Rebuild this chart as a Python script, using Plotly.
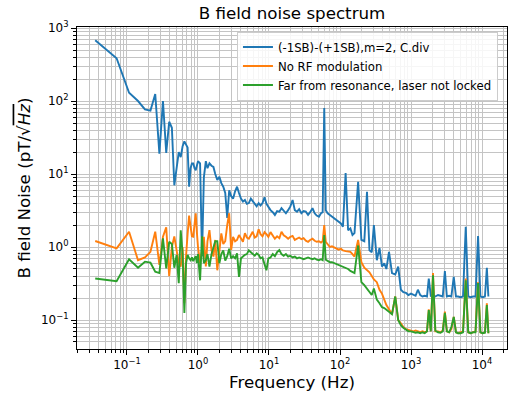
import plotly.graph_objects as go

# ---------------- data ----------------
freq = [
    0.0357, 0.0714, 0.107, 0.143, 0.179, 0.214, 0.25, 0.286, 0.321, 0.357,
    0.393, 0.429, 0.464, 0.5, 0.536, 0.571, 0.607, 0.643, 0.679, 0.714,
    0.75, 0.786, 0.821, 0.857, 0.893, 0.929, 0.964, 1.0,
    1.07, 1.14, 1.21, 1.29, 1.36, 1.45, 1.55, 1.65, 1.75, 1.87,
    2.0, 2.13, 2.27, 2.42, 2.58, 2.75, 2.93, 3.12, 3.33, 3.55,
    3.78, 4.03, 4.3, 4.58, 4.88, 5.2, 5.55, 5.9, 6.3, 6.7,
    7.15, 7.6, 8.1, 8.65, 9.2, 9.8,
    10.5, 11.3, 12.1, 13, 14, 15, 16.1, 17.3, 18.6, 20,
    21.5, 23.1, 24.8, 26.6, 28.6, 30.7, 33, 35.5, 38, 41,
    44, 47, 50.5, 54, 57, 60, 63, 67, 72, 77, 83, 89, 96,
    103, 110, 120, 130, 140, 150, 160, 180, 200, 220,
    240, 260, 280, 300, 330, 360, 390, 420, 450, 490,
    540, 600, 660, 720, 780, 850, 920, 1000, 1080, 1160,
    1250, 1350, 1450, 1560, 1680, 1780, 1900, 2040, 2200, 2400,
    2600, 2800, 3000, 3200, 3450, 3700, 4000, 4300, 4600, 5000,
    5400, 5900, 6400, 6900, 7500, 8100, 8800, 9500, 10200, 11000,
    11700, 12300,
]

noise_sb = [
    680, 385, 130, 100, 77, 74, 125, 19, 100, 19.5,
    52, 43, 7, 12, 20, 17, 24, 28, 25, 23,
    6.7, 12, 14, 14, 12, 11.3, 13, 15,
    14, 0.75, 9, 15, 12, 14, 13, 12.5, 10, 8.3,
    9.2, 7.5, 6.7, 5.5, 2.5, 6.0, 5.0, 4.6, 5.8, 6.7,
    5.5, 4.6, 4.2, 4.4, 3.9, 4.0, 4.6, 4.2, 3.8, 3.6,
    4.0, 3.7, 4.0, 4.8, 3.9, 3.5,
    3.2, 3.0, 2.75, 3.1, 3.05, 3.4, 3.1, 2.9, 3.2, 3.6,
    4.4, 3.2, 3.05, 3.3, 2.9, 3.1, 3.05, 2.75, 3.0, 3.4,
    2.9, 2.7, 2.6, 2.9, 3.0, 80, 3.2, 2.9, 2.75, 2.6, 2.5, 2.3, 2.2,
    2.1, 1.9, 10.3, 1.7, 1.8, 1.46, 1.55, 7.8, 1.25, 1.2,
    5.7, 0.9, 0.85, 2.0, 0.66, 0.97, 0.54, 0.6, 0.5, 0.86,
    0.44, 0.42, 0.54, 0.26, 0.24, 0.235, 0.22, 0.23, 0.22, 0.215,
    0.26, 0.22, 0.21, 0.215, 0.21, 0.37, 0.215, 0.22, 0.21, 0.22,
    0.215, 0.21, 0.47, 0.21, 0.215, 0.21, 0.39, 0.21, 0.21, 0.205,
    0.21, 1.9, 0.21, 0.205, 0.21, 0.21, 1.41, 0.21, 0.205, 0.21,
    0.52, 0.21,
]

noise_no_rf = [
    1.21, 0.96, 1.62, 0.66, 0.72, 0.86, 1.62, 0.57, 1.38, 1.86,
    0.40, 1.0, 1.4, 0.86, 0.6, 0.54, 1.0, 0.17, 0.75, 1.5,
    2.7, 1.9, 1.4, 1.38, 2.0, 2.9, 1.6, 1.0,
    0.6, 1.0, 1.38, 0.54, 1.2, 1.7, 0.9, 0.74, 1.25, 0.48,
    1.0, 1.54, 1.1, 1.2, 2.0, 2.9, 0.91, 1.38, 1.2, 1.25,
    1.46, 1.3, 1.18, 1.55, 1.35, 1.3, 1.45, 1.62, 1.35, 1.4,
    1.75, 1.5, 1.4, 1.6, 1.5, 1.38,
    1.6, 1.45, 1.3, 1.4, 1.32, 1.62, 1.45, 1.38, 1.3, 1.38,
    1.42, 1.25, 1.3, 1.35, 1.28, 1.32, 1.22, 1.18, 1.25, 1.3,
    1.22, 1.18, 1.2, 1.15, 1.2, 2.0, 1.18, 1.1, 1.0, 1.02, 0.98, 0.95, 0.92,
    0.95, 0.9, 0.88, 0.86, 0.86, 0.8, 0.74, 1.25, 0.62, 0.52,
    0.48, 0.45, 0.4, 0.36, 0.33, 0.26, 0.23, 0.19, 0.16, 0.14,
    0.12, 0.21, 0.1, 0.09, 0.08, 0.075, 0.073, 0.072, 0.07, 0.072,
    0.07, 0.068, 0.07, 0.068, 0.07, 0.14, 0.07, 0.44, 0.07, 0.07,
    0.068, 0.072, 0.13, 0.07, 0.068, 0.075, 0.11, 0.068, 0.066, 0.068,
    0.07, 0.37, 0.068, 0.066, 0.068, 0.07, 0.33, 0.068, 0.066, 0.068,
    0.17, 0.066,
]

noise_far = [
    0.37, 0.34, 0.68, 0.52, 0.63, 0.61, 0.46, 0.44, 1.31, 0.51,
    1.18, 1.1, 0.52, 0.78, 0.32, 1.7, 0.8, 0.125, 0.6, 0.78,
    0.7, 0.66, 0.72, 0.64, 0.7, 0.75, 0.6, 0.8,
    0.35, 1.4, 0.6, 0.66, 0.8, 0.54, 0.8, 0.95, 1.2, 1.2,
    0.6, 0.8, 0.9, 0.65, 0.75, 0.95, 0.7, 0.75, 0.7, 0.82,
    0.39, 0.7, 0.75, 0.78, 0.8, 0.9, 0.85, 0.8, 0.76, 0.82,
    0.78, 0.7, 0.72, 0.58, 0.48, 0.7,
    0.72, 0.8, 0.75, 0.85, 0.91, 0.8, 0.76, 0.8, 0.74, 0.76,
    0.72, 0.74, 0.7, 0.72, 0.7, 0.68, 0.7, 0.72, 0.7, 0.68,
    0.7, 0.67, 0.66, 0.68, 0.66, 1.46, 0.67, 0.64, 0.62, 0.62, 0.6, 0.58, 0.56,
    0.55, 0.54, 0.52, 0.5, 0.47, 0.46, 0.44, 1.05, 0.33, 0.3,
    0.27, 0.24, 0.22, 0.27, 0.19, 0.17, 0.15, 0.146, 0.14, 0.13,
    0.12, 0.21, 0.1, 0.085, 0.078, 0.074, 0.07, 0.07, 0.068, 0.067,
    0.068, 0.066, 0.068, 0.066, 0.07, 0.137, 0.07, 0.41, 0.072, 0.068,
    0.067, 0.07, 0.125, 0.07, 0.068, 0.08, 0.11, 0.068, 0.066, 0.066,
    0.068, 0.35, 0.068, 0.066, 0.068, 0.068, 0.32, 0.068, 0.066, 0.067,
    0.16, 0.066,
]

series_names = [
    "(-1SB)-(+1SB),m=2, C.div",
    "No RF modulation",
    "Far from resonance, laser not locked",
]
series_colors = ["#1f77b4", "#ff7f0e", "#2ca02c"]

x_tick_vals = [0.1, 1, 10, 100, 1000, 10000]
x_tick_text = ["10<sup>\u22121</sup>", "10<sup>0</sup>", "10<sup>1</sup>",
               "10<sup>2</sup>", "10<sup>3</sup>", "10<sup>4</sup>"]
y_tick_vals = [0.1, 1, 10, 100, 1000]
y_tick_text = ["10<sup>\u22121</sup>", "10<sup>0</sup>", "10<sup>1</sup>",
               "10<sup>2</sup>", "10<sup>3</sup>"]

x_minor = [m * 10.0 ** e for e in range(-2, 5) for m in range(2, 10)]
y_minor = [m * 10.0 ** e for e in range(-2, 3) for m in range(2, 10)]

# ---------------- figure ----------------
FONT = "DejaVu Sans"
fig = go.Figure()
for vals, name, col in zip([noise_sb, noise_no_rf, noise_far], series_names, series_colors):
    fig.add_trace(go.Scatter(x=freq, y=vals, mode="lines", name=name,
                             line=dict(color=col, width=1.9)))

grid_col = "#c4c4c4"
axis_common = dict(
    type="log",
    showline=True, linecolor="#000000", linewidth=1, mirror=True,
    ticks="outside", ticklen=5, tickwidth=1, tickcolor="#000000",
    showgrid=True, gridcolor=grid_col, gridwidth=1,
    tickfont=dict(family=FONT, size=12, color="#000000"),
    zeroline=False,
    tickmode="array",
)

fig.update_xaxes(
    **axis_common,
    range=[-1.704, 4.352],
    tickvals=x_tick_vals, ticktext=x_tick_text,
    minor=dict(tickmode="array", tickvals=x_minor, ticks="outside", ticklen=3,
               tickcolor="#000000", showgrid=True, gridcolor=grid_col, gridwidth=1),
    title=dict(text="Frequency (Hz)", font=dict(family=FONT, size=16.7, color="#000000"),
               standoff=4),
)
fig.update_yaxes(
    **axis_common,
    range=[-1.397, 3.014],
    tickvals=y_tick_vals, ticktext=y_tick_text,
    minor=dict(tickmode="array", tickvals=y_minor, ticks="outside", ticklen=3,
               tickcolor="#000000", showgrid=True, gridcolor=grid_col, gridwidth=1),
    title=dict(text="B field Noise (pT/\u221a<span style=\"text-decoration:overline\"><i>Hz</i></span>)",
               font=dict(family=FONT, size=16.7, color="#000000"), standoff=6),
)

fig.update_layout(
    width=508, height=398,
    margin=dict(l=77, r=1, t=27, b=49),
    paper_bgcolor="white", plot_bgcolor="white",
    title=dict(text="B field noise spectrum", x=(77 + 507) / 2 / 508, xanchor="center",
               y=1 - 13 / 398, yanchor="middle",
               font=dict(family=FONT, size=16.7, color="#000000")),
    legend=dict(x=0.372, y=0.986, xanchor="left", yanchor="top",
                bgcolor="rgba(255,255,255,0.85)", bordercolor="#cccccc", borderwidth=1,
                font=dict(family=FONT, size=11.7, color="#000000"),
                tracegroupgap=0),
    showlegend=True,
)

fig.write_html("out.html")
